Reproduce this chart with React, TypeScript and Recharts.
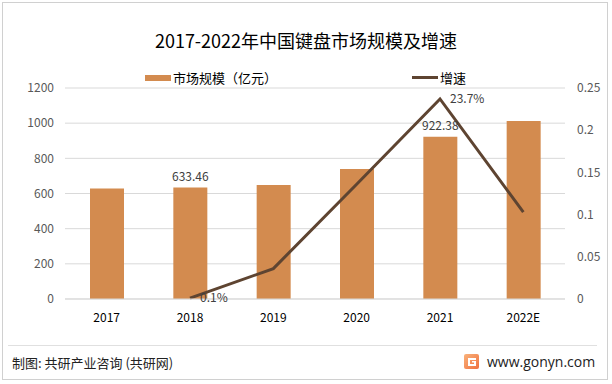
import React from "react";
import {
  ComposedChart,
  Bar,
  Line,
  XAxis,
  YAxis,
  CartesianGrid,
  Legend,
  LabelList,
} from "recharts";

const years = ["2017", "2018", "2019", "2020", "2021", "2022E"];
const marketSize = [629, 633.46, 648, 739, 922.38, 1012];
const growth = [null, 0.001, 0.036, 0.136, 0.237, 0.103];
const sizeLabels = ["", "633.46", "", "", "922.38", ""];
const growthLabels = ["", "0.1%", "", "", "23.7%", ""];
const leftTicks = [0, 200, 400, 600, 800, 1000, 1200];
const rightTicks = [0, 0.05, 0.1, 0.15, 0.2, 0.25];

const BAR = "#D38B4F";
const LINE = "#5E4431";
const FONT = '"Noto Sans CJK SC", "Noto Sans", sans-serif';

const data = years.map((y, i) => ({
  year: y,
  size: marketSize[i],
  rate: growth[i],
  sizeLabel: sizeLabels[i],
  rateLabel: growthLabels[i],
}));

function RateLabel(props: any) {
  const { x, y, value } = props;
  if (!value) return null;
  return (
    <text x={x + 10} y={y} dy="0.35em" fontSize={12} fill="#404040" fontFamily={FONT}>
      {value}
    </text>
  );
}

function LegendContent(props: any) {
  const items = props.payload || [];
  const pos: Record<string, number> = { size: 145, rate: 412 };
  return (
    <div style={{ position: "relative", height: 18, fontFamily: FONT, fontSize: 13, color: "#000" }}>
      {items.map((it: any) => (
        <div
          key={it.dataKey}
          style={{ position: "absolute", left: pos[it.dataKey], top: 0, display: "flex", alignItems: "center" }}
        >
          <span
            style={{
              display: "inline-block",
              width: 26,
              height: it.dataKey === "size" ? 6 : 3,
              background: it.dataKey === "size" ? BAR : LINE,
              marginRight: 2,
            }}
          />
          <span>{it.value}</span>
        </div>
      ))}
    </div>
  );
}

function Logo() {
  return (
    <svg width={15} height={15} viewBox="0 0 15 15">
      <defs>
        <linearGradient id="lg" x1="0" y1="0" x2="1" y2="1">
          <stop offset="0" stopColor="#F9B27A" />
          <stop offset="1" stopColor="#F0713F" />
        </linearGradient>
      </defs>
      <rect x={0} y={0} width={15} height={15} rx={2} fill="url(#lg)" />
      <path d="M4 4 H12 V6 H6 V10 H10 V8.5 H8 V7 H12 V12 H4 Z" fill="#fff" />
    </svg>
  );
}

export default function App() {
  return (
    <div
      style={{
        position: "absolute",
        left: 0,
        top: 0,
        width: 612,
        height: 384,
        background: "#fff",
        fontFamily: FONT,
      }}
    >
      <div
        style={{
          position: "absolute",
          left: 2,
          top: 2,
          width: 606,
          height: 378,
          border: "1px solid #d0d0d0",
          boxSizing: "border-box",
        }}
      />
      <div
        style={{
          position: "absolute",
          left: 0,
          top: 27,
          width: 612,
          textAlign: "center",
          fontSize: 18,
          color: "#000",
        }}
      >
        2017-2022年中国键盘市场规模及增速
      </div>
      <div style={{ position: "absolute", left: 0, top: 0 }}>
        <ComposedChart
          width={612}
          height={384}
          data={data}
          margin={{ top: 70, right: 0, bottom: 55, left: 0 }}
        >
          <CartesianGrid vertical={false} stroke="#d9d9d9" yAxisId="left" />
          <XAxis
            dataKey="year"
            axisLine={{ stroke: "#d9d9d9" }}
            tickLine={false}
            tickSize={0}
            tickMargin={14}
            height={30}
            tick={{ fontSize: 12, fill: "#000", fontFamily: FONT }}
          />
          <YAxis
            yAxisId="left"
            domain={[0, 1200]}
            ticks={leftTicks}
            width={65}
            axisLine={false}
            tickLine={false}
            tickSize={0}
            tickMargin={11}
            tick={{ fontSize: 12, fill: "#595959", fontFamily: FONT }}
          />
          <YAxis
            yAxisId="right"
            orientation="right"
            domain={[0, 0.25]}
            ticks={rightTicks}
            width={47}
            axisLine={false}
            tickLine={false}
            tickSize={0}
            tickMargin={12}
            tick={{ fontSize: 12, fill: "#595959", fontFamily: FONT }}
          />
          <Legend
            verticalAlign="top"
            content={<LegendContent />}
            wrapperStyle={{ top: 68, left: 0, width: 612 }}
          />
          <Bar
            yAxisId="left"
            dataKey="size"
            name="市场规模（亿元）"
            fill={BAR}
            barSize={34}
            isAnimationActive={false}
          >
            <LabelList
              dataKey="sizeLabel"
              position="top"
              offset={7}
              style={{ fontSize: 12, fill: "#404040", fontFamily: FONT }}
            />
          </Bar>
          <Line
            yAxisId="right"
            dataKey="rate"
            name="增速"
            stroke={LINE}
            strokeWidth={3}
            dot={false}
            activeDot={false}
            isAnimationActive={false}
          >
            <LabelList dataKey="rateLabel" content={<RateLabel />} />
          </Line>
        </ComposedChart>
      </div>
      <div
        style={{
          position: "absolute",
          left: 8,
          top: 345,
          width: 589,
          borderTop: "1px solid #e0e0e0",
        }}
      />
      <div style={{ position: "absolute", left: 12, top: 353, fontSize: 13, color: "#222" }}>
        制图: 共研产业咨询 (共研网)
      </div>
      <div
        style={{
          position: "absolute",
          left: 464,
          top: 352,
          display: "flex",
          alignItems: "center",
          fontSize: 14,
          color: "#222",
          fontFamily: '"Open Sans", sans-serif',
        }}
      >
        <Logo />
        <span style={{ marginLeft: 8 }}>www.gonyn.com</span>
      </div>
    </div>
  );
}
